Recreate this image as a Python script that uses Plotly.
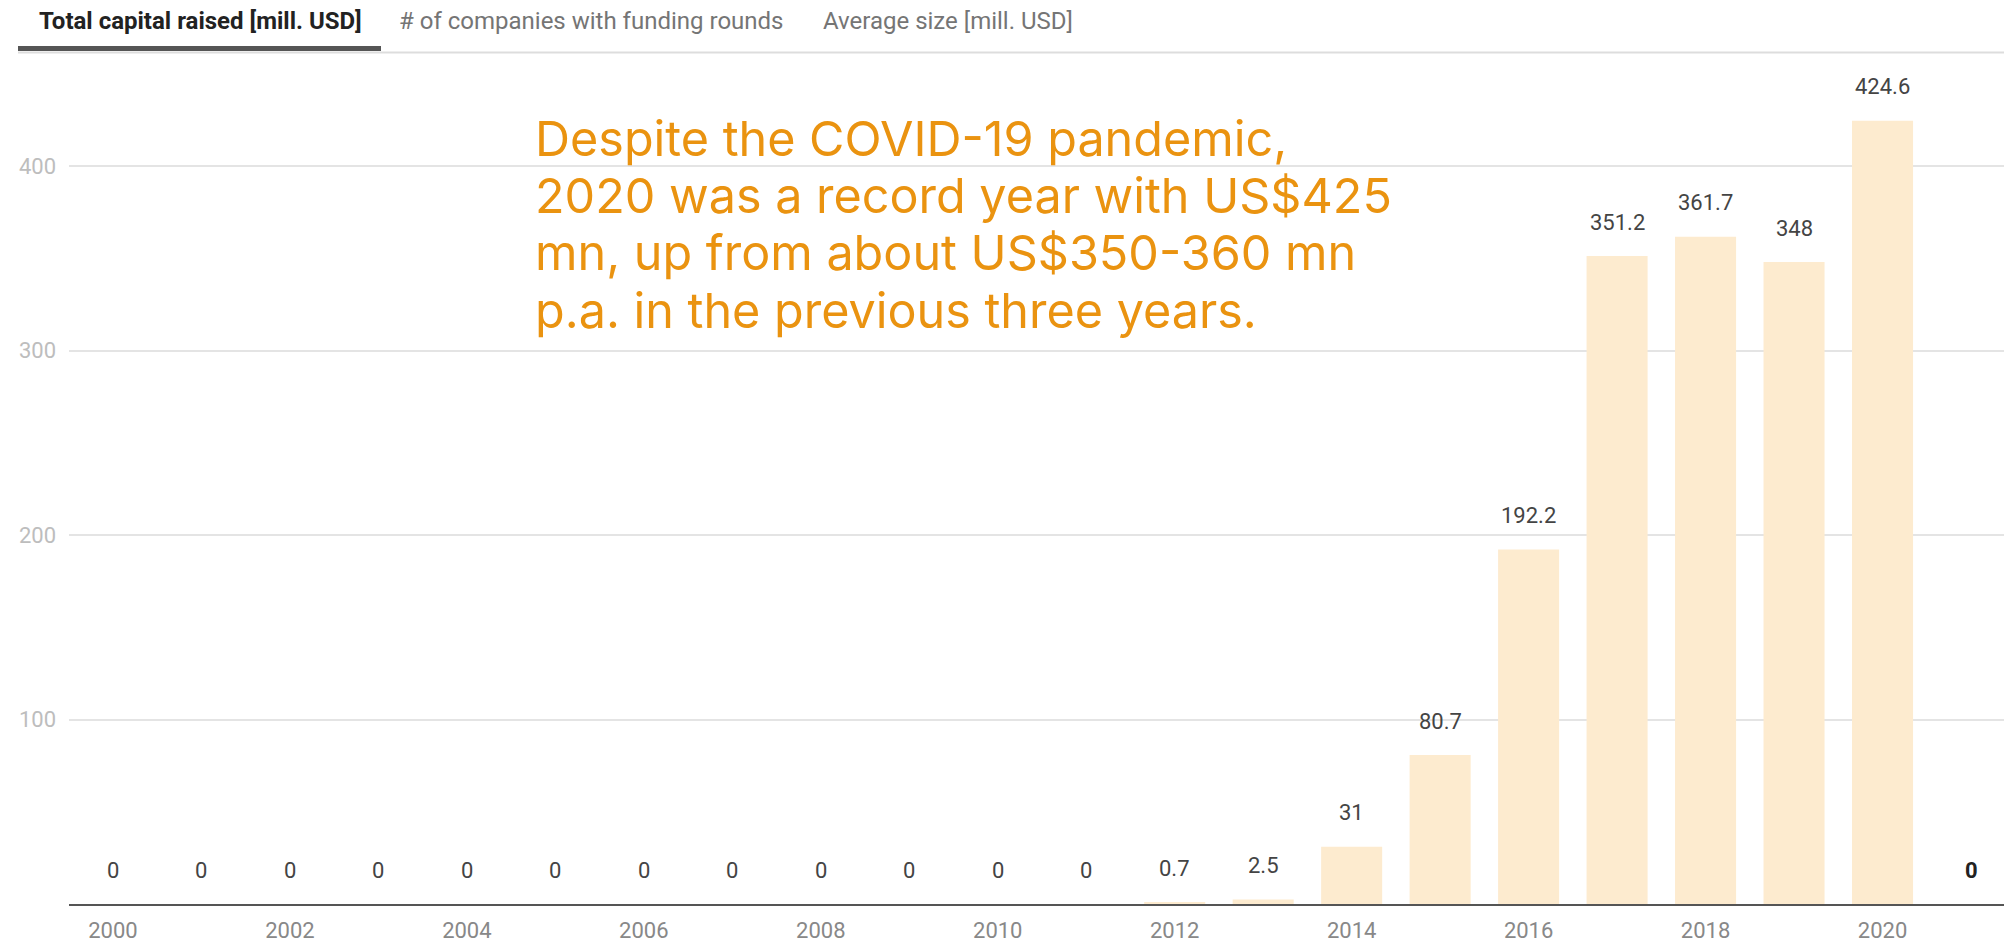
import plotly.graph_objects as go

years = list(range(2000, 2022))
capital = [0, 0, 0, 0, 0, 0, 0, 0, 0, 0, 0, 0, 0.7, 2.5, 31, 80.7, 192.2, 351.2, 361.7, 348, 424.6, 0]
labels = ["0", "0", "0", "0", "0", "0", "0", "0", "0", "0", "0", "0",
          "0.7", "2.5", "31", "80.7", "192.2", "351.2", "361.7", "348", "424.6", "0"]
xtick_vals = list(range(2000, 2021, 2))
ytick_vals = [100, 200, 300, 400]
tabs = ["Total capital raised [mill. USD]", "# of companies with funding rounds", "Average size [mill. USD]"]
note_lines = ["Despite the COVID-19 pandemic,",
              "2020 was a record year with US$425",
              "mn, up from about US$350-360 mn",
              "p.a. in the previous three years."]

W, H = 2004, 944
ML, MR, MT, MB = 69, 0, 60, 40
PW, PH = W - ML - MR, H - MT - MB


def px(x):
    return (x - ML) / PW


def py(y):
    return (H - MB - y) / PH


fig = go.Figure()
fig.add_trace(go.Bar(x=years, y=capital, marker=dict(color="#FDEBCF", line=dict(width=0)),
                     hoverinfo="x+y", showlegend=False))

annotations = []
for i, (yr, v, lab) in enumerate(zip(years, capital, labels)):
    last = i == len(years) - 1
    annotations.append(dict(x=yr, y=v, xref="x", yref="y", text=f"<b>{lab}</b>" if last else lab,
                            showarrow=False, yanchor="middle", yshift=34,
                            font=dict(family="Roboto", size=22, color="#222222" if last else "#444444")))

for i, line in enumerate(note_lines):
    annotations.append(dict(x=px(533), y=py(138 + 57.5 * i), xref="paper", yref="paper", text=line,
                            showarrow=False, xanchor="left", yanchor="middle", align="left",
                            font=dict(family="Inter", size=48.5, color="#EA9310")))

tab_x = [37, 397, 821]
for i, (t, tx) in enumerate(zip(tabs, tab_x)):
    annotations.append(dict(x=px(tx), y=py(21), xref="paper", yref="paper",
                            text=f"<b>{t}</b>" if i == 0 else t, showarrow=False,
                            xanchor="left", yanchor="middle",
                            font=dict(family="Roboto", size=24, color="#222222" if i == 0 else "#757575")))

shapes = [
    dict(type="line", xref="paper", yref="paper", x0=px(18), x1=px(2004), y0=py(52.5), y1=py(52.5),
         line=dict(color="#DDDDDD", width=2)),
    dict(type="rect", xref="paper", yref="paper", x0=px(18), x1=px(381), y0=py(46), y1=py(51),
         line=dict(width=0), fillcolor="#555555"),
]

fig.update_layout(
    width=W, height=H,
    margin=dict(l=ML, r=MR, t=MT, b=MB),
    paper_bgcolor="white", plot_bgcolor="white",
    bargap=0.31,
    annotations=annotations, shapes=shapes,
    xaxis=dict(range=[1999.503, 2021.373], tickvals=xtick_vals, ticks="", showgrid=False,
               showline=True, linecolor="#555555", linewidth=2, zeroline=False,
               tickfont=dict(family="Roboto", size=22, color="#888888"), ticklabelstandoff=6),
    yaxis=dict(range=[0, 457.5], tickvals=ytick_vals, ticks="", showgrid=True, gridcolor="#E4E4E4",
               gridwidth=2, zeroline=False, showline=False,
               tickfont=dict(family="Roboto", size=22, color="#BDBDBD"), ticklabelstandoff=12),
)

fig.write_html("out.html")
